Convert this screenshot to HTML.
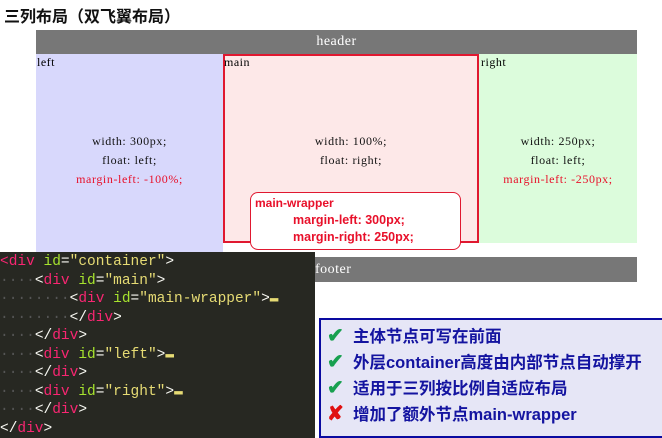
<!DOCTYPE html>
<html><head><meta charset="utf-8"><style>
body{margin:0;width:662px;height:438px;background:#fff;position:relative;overflow:hidden;font-family:"Liberation Serif","Noto Serif CJK SC",serif}
.a{position:absolute}
.title{left:4px;top:3px;font:bold 16px "Liberation Sans","Noto Sans CJK SC",sans-serif;color:#111}
.c{font-size:12px;color:#111;text-align:center;line-height:19px;letter-spacing:0.6px}
.r{color:#e8102a}
.code{left:0;top:252px;width:315px;height:186px;background:#272822;font:14.5px "Liberation Mono",monospace;color:#f8f8f2;padding-top:1px;box-sizing:border-box}
.code div{height:18.5px;line-height:18.5px;white-space:pre}
.t{color:#f92672}.s{color:#e6db74}.k{color:#a6e22e}.d{color:#555}
.box{left:319px;top:318px;width:343px;height:120px;background:#e6e6f6;border:2px solid #0a0aa0;border-right:none;box-sizing:border-box;font:bold 16.5px "Liberation Sans","Noto Sans CJK SC",sans-serif;color:#1414a0;padding:3px 0 0 6px}
.box div{height:26px;line-height:26px;white-space:nowrap}
.ok{color:#18a050;display:inline-block;width:26px;font-size:20px}
.no{color:#e01010;display:inline-block;width:26px;font-size:20px}
</style></head><body>
<div class="a title">三列布局（双飞翼布局）</div>
<div class="a" style="left:36px;top:30px;width:601px;height:24px;background:#777;color:#fff;text-align:center;line-height:24px;font-size:14px;letter-spacing:0.5px">header</div>
<div class="a" style="left:36px;top:54px;width:187px;height:200px;background:#d8d8fc"></div>
<div class="a" style="left:479px;top:54px;width:158px;height:189px;background:#dcfcdc"></div>
<div class="a" style="left:223px;top:54px;width:256px;height:189px;background:#fde8e8;border:2px solid #e01830;box-sizing:border-box"></div>
<div class="a" style="left:37px;top:55px;font-size:12px;letter-spacing:0.5px">left</div>
<div class="a" style="left:224px;top:55px;font-size:12px;letter-spacing:0.5px">main</div>
<div class="a" style="left:481px;top:55px;font-size:12px;letter-spacing:0.5px">right</div>
<div class="a c" style="left:36px;top:132px;width:187px">width: 300px;<br>float: left;<br><span class="r">margin-left: -100%;</span></div>
<div class="a c" style="left:223px;top:132px;width:256px">width: 100%;<br>float: right;</div>
<div class="a c" style="left:479px;top:132px;width:158px">width: 250px;<br>float: left;<br><span class="r">margin-left: -250px;</span></div>
<div class="a" style="left:250px;top:192px;width:211px;height:58px;background:#fff;border:1.5px solid #e01830;border-radius:8px;box-sizing:border-box;font:bold 12px 'Liberation Sans',sans-serif;color:#e8102a;line-height:17px;padding:2px 0 0 4px">main-wrapper<div style="padding-left:38px;font-size:12.5px">margin-left: 300px;<br>margin-right: 250px;</div></div>
<div class="a" style="left:315px;top:257px;width:322px;height:25px;background:#777;color:#fff;line-height:25px;font-size:14px;letter-spacing:0.5px">footer</div>
<div class="a code">
<div><span class="t">&lt;div</span> <span class="k">id</span>=<span class="s">"container"</span>&gt;</div>
<div><span class="d">····</span>&lt;<span class="t">div</span> <span class="k">id</span>=<span class="s">"main"</span>&gt;</div>
<div><span class="d">········</span>&lt;<span class="t">div</span> <span class="k">id</span>=<span class="s">"main-wrapper"</span>&gt;<span class="s">▬</span></div>
<div><span class="d">········</span>&lt;/<span class="t">div</span>&gt;</div>
<div><span class="d">····</span>&lt;/<span class="t">div</span>&gt;</div>
<div><span class="d">····</span>&lt;<span class="t">div</span> <span class="k">id</span>=<span class="s">"left"</span>&gt;<span class="s">▬</span></div>
<div><span class="d">····</span>&lt;/<span class="t">div</span>&gt;</div>
<div><span class="d">····</span>&lt;<span class="t">div</span> <span class="k">id</span>=<span class="s">"right"</span>&gt;<span class="s">▬</span></div>
<div><span class="d">····</span>&lt;/<span class="t">div</span>&gt;</div>
<div>&lt;/<span class="t">div</span>&gt;</div>
</div>
<div class="a box">
<div><span class="ok">✔</span>主体节点可写在前面</div>
<div><span class="ok">✔</span>外层container高度由内部节点自动撑开</div>
<div><span class="ok">✔</span>适用于三列按比例自适应布局</div>
<div><span class="no">✘</span>增加了额外节点main-wrapper</div>
</div>
</body></html>
